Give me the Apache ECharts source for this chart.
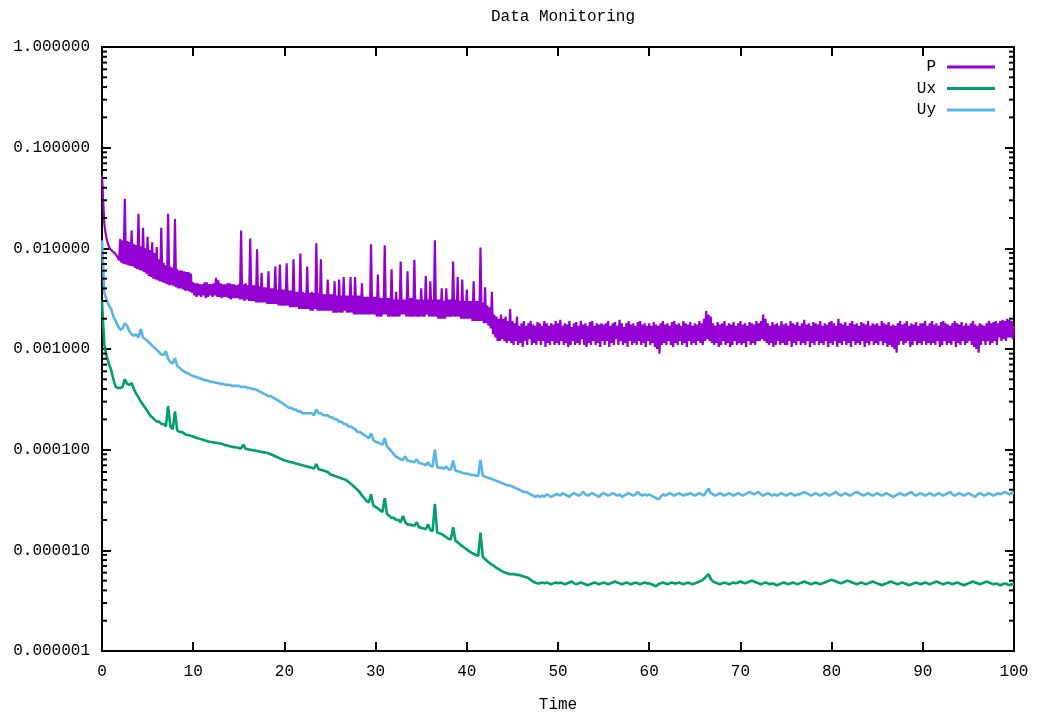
<!DOCTYPE html>
<html>
<head>
<meta charset="utf-8">
<title>Data Monitoring</title>
<script src="https://cdn.jsdelivr.net/npm/echarts@6/dist/echarts.min.js"></script>
<style>
html,body{margin:0;padding:0;background:#fff;}
#chart{width:1041px;height:718px;}
</style>
</head>
<body>
<div id="chart"></div>
<script>
// Residual histories. P is sampled every P_STEP time units, Ux/Uy every U_STEP, all from t = 0.
const P_STEP = 0.125;
const U_STEP = 0.25;

const P = [
  5.3e-2,3.0e-2,1.77e-2,1.45e-2,1.25e-2,1.13e-2,1.05e-2,9.9e-3,9.5e-3,9.4e-3,9.2e-3,9.0e-3,8.8e-3,8.4e-3,8.0e-3,7.6e-3,
  1.24e-2,7.2e-3,1.2e-2,7.0e-3,3.1e-2,6.9e-3,1.18e-2,6.8e-3,1.16e-2,6.7e-3,1.5e-2,6.6e-3,1.1e-2,6.4e-3,1.08e-2,6.2e-3,
  2.2e-2,6.1e-3,1.05e-2,6.0e-3,1.6e-2,5.8e-3,1.0e-2,5.6e-3,
  1.3e-2,5.3e-3,9.6e-3,5.2e-3,1.15e-2,5.0e-3,9.0e-3,4.9e-3,1.03e-2,4.8e-3,7.8e-3,4.7e-3,1.6e-2,4.6e-3,7.2e-3,4.5e-3,
  6.8e-3,4.4e-3,2.2e-2,4.3e-3,6.6e-3,4.3e-3,6.4e-3,4.2e-3,1.95e-2,4.1e-3,6.2e-3,4.0e-3,6.0e-3,4.0e-3,6.0e-3,3.9e-3,
  5.9e-3,3.8e-3,5.8e-3,3.8e-3,5.8e-3,3.7e-3,5.6e-3,3.6e-3,
  4.6e-3,3.4e-3,4.5e-3,3.3e-3,4.5e-3,3.4e-3,4.4e-3,3.3e-3,4.4e-3,3.4e-3,4.6e-3,3.2e-3,4.6e-3,3.3e-3,4.4e-3,3.4e-3,
  4.4e-3,3.3e-3,4.5e-3,3.4e-3,5.1e-3,3.3e-3,4.8e-3,3.3e-3,4.5e-3,3.2e-3,4.4e-3,3.3e-3,4.4e-3,3.3e-3,4.5e-3,3.2e-3,
  4.5e-3,3.1e-3,4.4e-3,3.2e-3,4.4e-3,3.2e-3,4.3e-3,3.2e-3,
  4.4e-3,3.1e-3,1.5e-2,3.1e-3,4.4e-3,3.0e-3,4.5e-3,3.1e-3,4.3e-3,3.0e-3,1.25e-2,3.0e-3,4.3e-3,3.0e-3,4.3e-3,2.9e-3,
  9.8e-3,2.9e-3,4.2e-3,2.9e-3,5.7e-3,2.9e-3,4.1e-3,2.9e-3,4.1e-3,2.8e-3,5.9e-3,2.8e-3,4.0e-3,2.8e-3,4.0e-3,2.8e-3,
  6.6e-3,2.8e-3,3.9e-3,2.7e-3,6.9e-3,2.7e-3,3.9e-3,2.7e-3,
  3.9e-3,2.7e-3,7.1e-3,2.7e-3,3.8e-3,2.6e-3,3.8e-3,2.6e-3,7.8e-3,2.6e-3,3.7e-3,2.6e-3,3.7e-3,2.5e-3,8.9e-3,2.5e-3,
  3.7e-3,2.5e-3,3.6e-3,2.5e-3,6.6e-3,2.5e-3,3.6e-3,2.4e-3,3.7e-3,2.4e-3,3.6e-3,2.5e-3,1.12e-2,2.4e-3,3.6e-3,2.4e-3,
  7.8e-3,2.4e-3,3.5e-3,2.4e-3,3.5e-3,2.4e-3,4.9e-3,2.4e-3,
  3.5e-3,2.4e-3,3.5e-3,2.3e-3,4.7e-3,2.3e-3,3.4e-3,2.3e-3,4.9e-3,2.3e-3,3.4e-3,2.3e-3,5.2e-3,2.4e-3,3.4e-3,2.3e-3,
  3.4e-3,2.3e-3,5.2e-3,2.3e-3,3.4e-3,2.2e-3,5.2e-3,2.2e-3,3.4e-3,2.2e-3,3.4e-3,2.2e-3,4.5e-3,2.2e-3,3.3e-3,2.2e-3,
  3.3e-3,2.2e-3,3.3e-3,2.2e-3,1.1e-2,2.2e-3,3.3e-3,2.2e-3,
  3.3e-3,2.1e-3,5.5e-3,2.1e-3,3.2e-3,2.1e-3,3.2e-3,2.2e-3,1.07e-2,2.2e-3,3.2e-3,2.1e-3,3.2e-3,2.1e-3,6.2e-3,2.1e-3,
  3.1e-3,2.1e-3,3.7e-3,2.1e-3,3.1e-3,2.1e-3,7.4e-3,2.2e-3,3.1e-3,2.2e-3,3.1e-3,2.1e-3,5.9e-3,2.1e-3,3.2e-3,2.1e-3,
  3.2e-3,2.1e-3,7.7e-3,2.1e-3,3.1e-3,2.1e-3,3.1e-3,2.1e-3,
  4.0e-3,2.1e-3,3.1e-3,2.1e-3,5.3e-3,2.2e-3,3.1e-3,2.1e-3,4.7e-3,2.1e-3,3.1e-3,2.1e-3,1.2e-2,2.1e-3,3.1e-3,2.0e-3,
  3.1e-3,2.0e-3,4.0e-3,2.0e-3,3.0e-3,2.0e-3,4.0e-3,2.1e-3,3.1e-3,2.1e-3,3.1e-3,2.1e-3,7.4e-3,2.1e-3,3.1e-3,2.1e-3,
  5.2e-3,2.1e-3,3.0e-3,2.0e-3,4.9e-3,2.0e-3,3.0e-3,2.0e-3,
  3.9e-3,2.0e-3,3.0e-3,2.0e-3,3.0e-3,1.9e-3,4.7e-3,1.9e-3,3.0e-3,1.9e-3,3.0e-3,1.9e-3,1.02e-2,1.9e-3,2.9e-3,1.8e-3,
  4.1e-3,1.8e-3,2.7e-3,1.7e-3,2.6e-3,1.6e-3,3.7e-3,1.4e-3,2.2e-3,1.3e-3,2.1e-3,1.2e-3,2.0e-3,1.2e-3,2.2e-3,1.25e-3,
  2.0e-3,1.2e-3,2.1e-3,1.15e-3,1.9e-3,1.2e-3,2.5e-3,1.15e-3,
  1.9e-3,1.1e-3,1.8e-3,1.2e-3,2.1e-3,1.1e-3,1.7e-3,1.15e-3,1.8e-3,1.05e-3,1.9e-3,1.2e-3,1.7e-3,1.1e-3,1.8e-3,1.25e-3,
  1.9e-3,1.1e-3,1.75e-3,1.15e-3,1.7e-3,1.1e-3,1.85e-3,1.2e-3,1.8e-3,1.1e-3,1.7e-3,1.2e-3,1.9e-3,1.05e-3,1.8e-3,1.15e-3,
  1.7e-3,1.1e-3,1.8e-3,1.2e-3,1.75e-3,1.1e-3,1.9e-3,1.15e-3,
  1.8e-3,1.1e-3,1.95e-3,1.2e-3,1.7e-3,1.1e-3,1.8e-3,1.15e-3,1.75e-3,1.05e-3,1.9e-3,1.1e-3,1.65e-3,1.2e-3,1.8e-3,1.1e-3,
  1.85e-3,1.15e-3,1.7e-3,1.1e-3,1.9e-3,1.25e-3,1.75e-3,1.1e-3,1.8e-3,1.05e-3,1.7e-3,1.15e-3,1.85e-3,1.1e-3,1.9e-3,1.2e-3,
  1.7e-3,1.1e-3,1.8e-3,1.15e-3,1.75e-3,1.05e-3,1.8e-3,1.2e-3,
  1.75e-3,1.1e-3,1.8e-3,1.2e-3,1.9e-3,1.05e-3,1.7e-3,1.15e-3,1.8e-3,1.1e-3,1.85e-3,1.25e-3,1.7e-3,1.1e-3,1.95e-3,1.2e-3,
  1.8e-3,1.1e-3,1.65e-3,1.15e-3,1.8e-3,1.05e-3,1.9e-3,1.2e-3,1.75e-3,1.1e-3,1.8e-3,1.15e-3,1.7e-3,1.1e-3,1.85e-3,1.2e-3,
  1.9e-3,1.1e-3,1.75e-3,1.15e-3,1.8e-3,1.05e-3,1.7e-3,1.2e-3,
  1.8e-3,1.1e-3,1.7e-3,1.15e-3,1.85e-3,1.05e-3,1.75e-3,1.0e-3,1.7e-3,9.0e-4,1.8e-3,1.1e-3,1.9e-3,1.15e-3,1.75e-3,1.1e-3,
  1.8e-3,1.2e-3,1.7e-3,1.1e-3,1.85e-3,1.05e-3,1.9e-3,1.15e-3,1.75e-3,1.1e-3,1.8e-3,1.2e-3,1.7e-3,1.1e-3,1.9e-3,1.15e-3,
  1.8e-3,1.05e-3,1.75e-3,1.2e-3,1.85e-3,1.1e-3,1.7e-3,1.15e-3,
  1.8e-3,1.1e-3,1.75e-3,1.2e-3,1.9e-3,1.15e-3,1.8e-3,1.1e-3,2.0e-3,1.2e-3,2.4e-3,1.25e-3,2.2e-3,1.2e-3,2.1e-3,1.15e-3,
  1.8e-3,1.1e-3,1.7e-3,1.15e-3,1.85e-3,1.05e-3,1.75e-3,1.1e-3,1.8e-3,1.2e-3,1.9e-3,1.1e-3,1.7e-3,1.15e-3,1.8e-3,1.05e-3,
  1.75e-3,1.1e-3,1.85e-3,1.2e-3,1.7e-3,1.1e-3,1.8e-3,1.15e-3,
  1.9e-3,1.1e-3,1.75e-3,1.15e-3,1.8e-3,1.05e-3,1.7e-3,1.2e-3,1.85e-3,1.1e-3,1.8e-3,1.15e-3,1.75e-3,1.1e-3,1.9e-3,1.2e-3,
  1.8e-3,1.2e-3,1.9e-3,1.25e-3,2.2e-3,1.2e-3,2.0e-3,1.15e-3,1.8e-3,1.1e-3,1.7e-3,1.15e-3,1.85e-3,1.05e-3,1.75e-3,1.1e-3,
  1.8e-3,1.2e-3,1.7e-3,1.1e-3,1.9e-3,1.15e-3,1.75e-3,1.1e-3,
  1.8e-3,1.1e-3,1.7e-3,1.2e-3,1.9e-3,1.05e-3,1.8e-3,1.15e-3,1.75e-3,1.1e-3,1.85e-3,1.2e-3,1.7e-3,1.1e-3,1.8e-3,1.15e-3,
  1.95e-3,1.1e-3,1.75e-3,1.2e-3,1.8e-3,1.05e-3,1.7e-3,1.15e-3,1.85e-3,1.1e-3,1.8e-3,1.2e-3,1.75e-3,1.1e-3,1.9e-3,1.15e-3,
  1.7e-3,1.1e-3,1.8e-3,1.2e-3,1.75e-3,1.05e-3,1.85e-3,1.15e-3,
  1.9e-3,1.1e-3,1.8e-3,1.2e-3,1.7e-3,1.05e-3,2.0e-3,1.15e-3,1.8e-3,1.1e-3,1.75e-3,1.2e-3,1.85e-3,1.1e-3,1.7e-3,1.15e-3,
  1.8e-3,1.05e-3,1.9e-3,1.2e-3,1.75e-3,1.1e-3,1.8e-3,1.15e-3,1.7e-3,1.1e-3,1.85e-3,1.2e-3,1.8e-3,1.05e-3,1.75e-3,1.15e-3,
  1.9e-3,1.1e-3,1.7e-3,1.2e-3,1.8e-3,1.1e-3,1.75e-3,1.15e-3,
  1.8e-3,1.1e-3,1.7e-3,1.2e-3,1.9e-3,1.1e-3,1.8e-3,1.15e-3,1.75e-3,1.05e-3,1.85e-3,1.1e-3,1.7e-3,1.05e-3,1.75e-3,1.0e-3,
  1.7e-3,9.2e-4,1.8e-3,1.1e-3,1.9e-3,1.2e-3,1.75e-3,1.1e-3,1.8e-3,1.15e-3,1.9e-3,1.2e-3,1.7e-3,1.05e-3,1.8e-3,1.1e-3,
  1.75e-3,1.2e-3,1.85e-3,1.1e-3,1.7e-3,1.15e-3,1.8e-3,1.1e-3,
  1.8e-3,1.2e-3,1.9e-3,1.1e-3,1.7e-3,1.15e-3,1.8e-3,1.1e-3,1.9e-3,1.15e-3,1.75e-3,1.1e-3,1.8e-3,1.2e-3,1.7e-3,1.05e-3,
  1.85e-3,1.1e-3,1.9e-3,1.2e-3,1.8e-3,1.1e-3,1.75e-3,1.15e-3,1.7e-3,1.1e-3,1.8e-3,1.2e-3,1.9e-3,1.05e-3,1.8e-3,1.15e-3,
  1.75e-3,1.1e-3,1.85e-3,1.2e-3,1.7e-3,1.1e-3,1.8e-3,1.15e-3,
  1.7e-3,1.2e-3,1.8e-3,1.1e-3,1.9e-3,1.05e-3,1.75e-3,1.0e-3,1.7e-3,9.2e-4,1.8e-3,1.1e-3,1.75e-3,1.2e-3,1.7e-3,1.1e-3,
  1.8e-3,1.2e-3,1.9e-3,1.1e-3,1.8e-3,1.15e-3,1.85e-3,1.2e-3,1.9e-3,1.1e-3,1.8e-3,1.3e-3,1.9e-3,1.2e-3,1.95e-3,1.25e-3,
  1.9e-3,1.2e-3,2.0e-3,1.3e-3,1.95e-3,1.3e-3,1.9e-3,1.25e-3,
  1.7e-3
];

const Ux = [
  3.0e-3,1.1e-3,8.5e-4,7.2e-4,6.2e-4,5.0e-4,4.2e-4,4.1e-4,4.1e-4,4.2e-4,5.0e-4,4.5e-4,4.4e-4,4.6e-4,4.0e-4,3.6e-4,3.3e-4,3.0e-4,2.8e-4,2.6e-4,
  2.4e-4,2.2e-4,2.1e-4,2.0e-4,1.9e-4,1.9e-4,1.8e-4,1.8e-4,1.7e-4,2.7e-4,1.7e-4,1.6e-4,2.4e-4,1.55e-4,1.5e-4,1.5e-4,1.45e-4,1.4e-4,1.4e-4,1.37e-4,
  1.35e-4,1.32e-4,1.3e-4,1.28e-4,1.26e-4,1.24e-4,1.22e-4,1.2e-4,1.19e-4,1.18e-4,1.17e-4,1.16e-4,1.15e-4,1.13e-4,1.11e-4,1.1e-4,1.08e-4,1.07e-4,1.06e-4,1.05e-4,
  1.04e-4,1.03e-4,1.12e-4,1.02e-4,1.01e-4,1.0e-4,9.9e-5,9.8e-5,9.7e-5,9.6e-5,9.5e-5,9.4e-5,9.3e-5,9.2e-5,9.0e-5,8.8e-5,8.6e-5,8.4e-5,8.2e-5,8.0e-5,
  7.8e-5,7.7e-5,7.6e-5,7.5e-5,7.4e-5,7.3e-5,7.2e-5,7.1e-5,7.0e-5,6.9e-5,6.8e-5,6.7e-5,6.6e-5,6.5e-5,7.2e-5,6.4e-5,6.3e-5,6.2e-5,6.1e-5,6.0e-5,
  5.7e-5,5.6e-5,5.5e-5,5.4e-5,5.3e-5,5.2e-5,5.1e-5,5.0e-5,4.8e-5,4.6e-5,4.4e-5,4.2e-5,4.0e-5,3.8e-5,3.5e-5,3.3e-5,3.1e-5,3.0e-5,3.6e-5,2.8e-5,
  2.7e-5,2.6e-5,2.5e-5,2.4e-5,3.3e-5,2.3e-5,2.2e-5,2.1e-5,2.1e-5,2.0e-5,2.0e-5,1.9e-5,2.2e-5,1.9e-5,1.8e-5,1.8e-5,1.78e-5,1.75e-5,1.9e-5,1.7e-5,
  1.68e-5,1.65e-5,1.62e-5,1.8e-5,1.6e-5,1.55e-5,2.9e-5,1.5e-5,1.48e-5,1.45e-5,1.4e-5,1.35e-5,1.3e-5,1.28e-5,1.7e-5,1.25e-5,1.2e-5,1.15e-5,1.1e-5,1.06e-5,
  1.02e-5,9.8e-6,9.5e-6,9.2e-6,9.0e-6,8.8e-6,1.5e-5,8.6e-6,8.2e-6,7.8e-6,7.5e-6,7.2e-6,7.0e-6,6.7e-6,6.5e-6,6.3e-6,6.1e-6,6.0e-6,5.9e-6,5.8e-6,
  5.8e-6,5.8e-6,5.7e-6,5.7e-6,5.6e-6,5.5e-6,5.4e-6,5.3e-6,5.1e-6,4.9e-6,4.8e-6,4.7e-6,4.7e-6,4.8e-6,4.7e-6,4.8e-6,4.7e-6,4.6e-6,4.7e-6,4.8e-6,
  4.7e-6,4.8e-6,4.7e-6,4.6e-6,4.7e-6,4.8e-6,4.9e-6,4.7e-6,4.6e-6,4.7e-6,4.8e-6,4.7e-6,4.6e-6,4.5e-6,4.6e-6,4.7e-6,4.8e-6,4.7e-6,4.6e-6,4.7e-6,
  4.8e-6,4.7e-6,4.6e-6,4.7e-6,4.8e-6,4.9e-6,4.8e-6,4.7e-6,4.6e-6,4.7e-6,4.8e-6,4.7e-6,4.6e-6,4.7e-6,4.8e-6,4.7e-6,4.6e-6,4.7e-6,4.8e-6,4.7e-6,
  4.7e-6,4.6e-6,4.5e-6,4.4e-6,4.6e-6,4.7e-6,4.8e-6,4.7e-6,4.6e-6,4.7e-6,4.8e-6,4.7e-6,4.7e-6,4.8e-6,4.7e-6,4.6e-6,4.7e-6,4.8e-6,4.7e-6,4.6e-6,
  4.7e-6,4.8e-6,4.9e-6,5.0e-6,5.2e-6,5.5e-6,5.8e-6,5.2e-6,4.9e-6,4.8e-6,4.7e-6,4.6e-6,4.7e-6,4.8e-6,4.7e-6,4.6e-6,4.7e-6,4.8e-6,4.7e-6,4.8e-6,
  4.9e-6,4.8e-6,4.7e-6,4.8e-6,4.9e-6,5.0e-6,4.9e-6,4.8e-6,4.7e-6,4.6e-6,4.7e-6,4.8e-6,4.7e-6,4.6e-6,4.7e-6,4.6e-6,4.5e-6,4.6e-6,4.7e-6,4.8e-6,
  4.7e-6,4.6e-6,4.7e-6,4.8e-6,4.7e-6,4.6e-6,4.7e-6,4.8e-6,4.9e-6,4.8e-6,4.7e-6,4.6e-6,4.7e-6,4.8e-6,4.7e-6,4.6e-6,4.7e-6,4.8e-6,4.9e-6,5.0e-6,
  5.1e-6,5.0e-6,4.9e-6,4.8e-6,4.7e-6,4.8e-6,4.9e-6,5.0e-6,4.9e-6,4.8e-6,4.7e-6,4.6e-6,4.7e-6,4.8e-6,4.7e-6,4.6e-6,4.7e-6,4.8e-6,4.9e-6,4.8e-6,
  4.7e-6,4.6e-6,4.5e-6,4.6e-6,4.7e-6,4.8e-6,4.9e-6,4.8e-6,4.7e-6,4.6e-6,4.7e-6,4.8e-6,4.7e-6,4.6e-6,4.5e-6,4.6e-6,4.7e-6,4.8e-6,4.7e-6,4.6e-6,
  4.7e-6,4.8e-6,4.7e-6,4.6e-6,4.7e-6,4.8e-6,4.9e-6,4.8e-6,4.7e-6,4.6e-6,4.7e-6,4.8e-6,4.7e-6,4.6e-6,4.7e-6,4.8e-6,4.7e-6,4.6e-6,4.5e-6,4.6e-6,
  4.7e-6,4.8e-6,4.9e-6,4.8e-6,4.7e-6,4.6e-6,4.7e-6,4.8e-6,4.9e-6,4.8e-6,4.7e-6,4.6e-6,4.7e-6,4.6e-6,4.5e-6,4.6e-6,4.7e-6,4.6e-6,4.5e-6,4.6e-6,
  4.6e-6
];

const Uy = [
  1.2e-2,3.6e-3,3.1e-3,2.7e-3,2.5e-3,2.1e-3,1.9e-3,1.7e-3,1.55e-3,1.6e-3,1.8e-3,1.7e-3,1.5e-3,1.4e-3,1.36e-3,1.4e-3,1.3e-3,1.58e-3,1.3e-3,1.25e-3,
  1.2e-3,1.14e-3,1.08e-3,1.03e-3,9.8e-4,9.3e-4,8.8e-4,8.7e-4,9.5e-4,8.0e-4,7.4e-4,7.2e-4,8.1e-4,6.8e-4,6.5e-4,6.2e-4,6.0e-4,5.8e-4,5.7e-4,5.5e-4,
  5.4e-4,5.3e-4,5.2e-4,5.1e-4,5.0e-4,4.9e-4,4.9e-4,4.8e-4,4.7e-4,4.7e-4,4.6e-4,4.6e-4,4.5e-4,4.5e-4,4.4e-4,4.4e-4,4.4e-4,4.3e-4,4.3e-4,4.3e-4,
  4.3e-4,4.2e-4,4.2e-4,4.2e-4,4.1e-4,4.1e-4,4.0e-4,4.0e-4,3.9e-4,3.8e-4,3.7e-4,3.6e-4,3.5e-4,3.4e-4,3.4e-4,3.3e-4,3.2e-4,3.1e-4,3.0e-4,2.9e-4,
  2.8e-4,2.7e-4,2.6e-4,2.6e-4,2.5e-4,2.5e-4,2.4e-4,2.4e-4,2.3e-4,2.3e-4,2.3e-4,2.3e-4,2.3e-4,2.2e-4,2.5e-4,2.3e-4,2.3e-4,2.2e-4,2.2e-4,2.2e-4,
  2.1e-4,2.1e-4,2.0e-4,2.0e-4,1.9e-4,1.9e-4,1.8e-4,1.8e-4,1.7e-4,1.7e-4,1.65e-4,1.6e-4,1.5e-4,1.5e-4,1.45e-4,1.4e-4,1.35e-4,1.3e-4,1.45e-4,1.25e-4,
  1.2e-4,1.18e-4,1.15e-4,1.12e-4,1.3e-4,1.08e-4,1.02e-4,9.6e-5,9.0e-5,8.5e-5,8.3e-5,8.0e-5,7.9e-5,8.6e-5,7.8e-5,7.7e-5,7.6e-5,7.5e-5,8.0e-5,7.4e-5,
  7.3e-5,7.2e-5,7.0e-5,7.5e-5,6.9e-5,6.8e-5,1.0e-4,6.7e-5,6.6e-5,6.6e-5,6.5e-5,6.8e-5,6.4e-5,6.3e-5,7.8e-5,6.2e-5,6.1e-5,6.0e-5,5.9e-5,5.8e-5,
  5.8e-5,5.7e-5,5.6e-5,5.6e-5,5.5e-5,5.5e-5,7.9e-5,5.5e-5,5.4e-5,5.3e-5,5.2e-5,5.1e-5,5.0e-5,4.9e-5,4.8e-5,4.7e-5,4.6e-5,4.5e-5,4.4e-5,4.4e-5,
  4.3e-5,4.2e-5,4.1e-5,4.0e-5,3.9e-5,3.8e-5,3.8e-5,3.7e-5,3.6e-5,3.5e-5,3.4e-5,3.5e-5,3.4e-5,3.5e-5,3.4e-5,3.6e-5,3.5e-5,3.4e-5,3.5e-5,3.6e-5,
  3.6e-5,3.5e-5,3.7e-5,3.6e-5,3.5e-5,3.4e-5,3.6e-5,3.7e-5,3.6e-5,3.5e-5,3.6e-5,3.8e-5,3.6e-5,3.5e-5,3.6e-5,3.7e-5,3.6e-5,3.5e-5,3.4e-5,3.6e-5,
  3.7e-5,3.6e-5,3.5e-5,3.6e-5,3.7e-5,3.6e-5,3.5e-5,3.6e-5,3.4e-5,3.5e-5,3.6e-5,3.7e-5,3.6e-5,3.5e-5,3.6e-5,3.8e-5,3.6e-5,3.5e-5,3.6e-5,3.5e-5,
  3.6e-5,3.5e-5,3.4e-5,3.3e-5,3.2e-5,3.4e-5,3.6e-5,3.5e-5,3.6e-5,3.7e-5,3.6e-5,3.5e-5,3.6e-5,3.7e-5,3.6e-5,3.5e-5,3.6e-5,3.6e-5,3.7e-5,3.6e-5,
  3.5e-5,3.6e-5,3.7e-5,3.6e-5,3.5e-5,3.8e-5,4.1e-5,3.7e-5,3.6e-5,3.5e-5,3.6e-5,3.7e-5,3.6e-5,3.5e-5,3.6e-5,3.7e-5,3.6e-5,3.5e-5,3.6e-5,3.7e-5,
  3.6e-5,3.5e-5,3.6e-5,3.7e-5,3.8e-5,3.7e-5,3.6e-5,3.7e-5,3.8e-5,3.6e-5,3.5e-5,3.6e-5,3.7e-5,3.6e-5,3.5e-5,3.6e-5,3.5e-5,3.6e-5,3.7e-5,3.6e-5,
  3.5e-5,3.6e-5,3.7e-5,3.6e-5,3.5e-5,3.6e-5,3.6e-5,3.7e-5,3.8e-5,3.7e-5,3.6e-5,3.5e-5,3.6e-5,3.7e-5,3.6e-5,3.5e-5,3.6e-5,3.7e-5,3.6e-5,3.5e-5,
  3.6e-5,3.7e-5,3.8e-5,3.6e-5,3.5e-5,3.6e-5,3.7e-5,3.6e-5,3.5e-5,3.6e-5,3.7e-5,3.8e-5,3.7e-5,3.6e-5,3.5e-5,3.6e-5,3.7e-5,3.6e-5,3.5e-5,3.6e-5,
  3.7e-5,3.6e-5,3.5e-5,3.6e-5,3.7e-5,3.6e-5,3.5e-5,3.4e-5,3.5e-5,3.6e-5,3.7e-5,3.6e-5,3.5e-5,3.6e-5,3.7e-5,3.8e-5,3.6e-5,3.5e-5,3.6e-5,3.7e-5,
  3.6e-5,3.5e-5,3.6e-5,3.7e-5,3.6e-5,3.5e-5,3.6e-5,3.7e-5,3.6e-5,3.5e-5,3.6e-5,3.7e-5,3.8e-5,3.6e-5,3.5e-5,3.6e-5,3.7e-5,3.6e-5,3.5e-5,3.6e-5,
  3.7e-5,3.6e-5,3.5e-5,3.4e-5,3.6e-5,3.7e-5,3.6e-5,3.5e-5,3.6e-5,3.7e-5,3.6e-5,3.5e-5,3.6e-5,3.7e-5,3.6e-5,3.7e-5,3.8e-5,3.7e-5,3.6e-5,3.7e-5,
  3.7e-5
];

const SERIES_NAMES = ['P', 'Ux', 'Uy'];
const SERIES_DATA = [P, Ux, Uy];
const SERIES_STEPS = [P_STEP, U_STEP, U_STEP];
const SERIES_COLORS = ['#9400d3', '#009e73', '#56b4e9'];
const SERIES_WIDTHS = [2.2, 2.6, 2.6];

const X_MIN = 0, X_MAX = 100, X_INTERVAL = 10;
const Y_MIN = 1e-6, Y_MAX = 1;

const FONT = '"Liberation Mono", "DejaVu Sans Mono", monospace';

// Plot frame in pixels
const GRID = { left: 102, right: 27, top: 47, bottom: 67 };
const CHART_W = 1041;

// Log-axis minor tick values (2..9 within each decade)
const MINOR_TICKS = [];
for (let e = -6; e < 0; e++) {
  for (let m = 2; m <= 9; m++) MINOR_TICKS.push(m * Math.pow(10, e));
}

const toPairs = (arr, step) => arr.map((v, i) => [i * step, v]);

const chart = echarts.init(document.getElementById('chart'), null, { renderer: 'canvas' });

const lineStyleAxis = { color: '#000', width: 2 };
const tickStyle = { color: '#000', width: 2 };
const textBase = { color: '#000', fontFamily: FONT, fontSize: 16 };

const xAxisCommon = {
  type: 'value', min: X_MIN, max: X_MAX, interval: X_INTERVAL,
  axisLine: { show: true, onZero: false, lineStyle: lineStyleAxis },
  axisTick: { show: true, inside: true, length: 9, lineStyle: tickStyle },
  splitLine: { show: false }
};
const yAxisCommon = {
  type: 'log', logBase: 10, min: Y_MIN, max: Y_MAX,
  axisLine: { show: true, onZero: false, lineStyle: lineStyleAxis },
  axisTick: { show: true, inside: true, length: 9, lineStyle: tickStyle },
  splitLine: { show: false }
};

// title centred over the plot frame rather than the whole canvas
const plotCenterX = GRID.left + (CHART_W - GRID.left - GRID.right) / 2;

const option = {
  animation: false,
  backgroundColor: '#fff',
  title: {
    text: 'Data Monitoring',
    left: plotCenterX, textAlign: 'center', top: 4,
    textStyle: Object.assign({}, textBase, { fontWeight: 'normal' })
  },
  legend: {
    data: SERIES_NAMES,
    orient: 'vertical', align: 'right',
    right: 46, top: 59, padding: 0,
    itemWidth: 48, itemHeight: 3, itemGap: 5.5,
    icon: 'rect',
    textStyle: Object.assign({}, textBase, { padding: [0, 6, 0, 0] })
  },
  grid: Object.assign({ containLabel: false }, GRID),
  xAxis: [
    Object.assign({}, xAxisCommon, {
      position: 'bottom',
      axisLabel: Object.assign({}, textBase, { margin: 13 }),
      name: 'Time', nameLocation: 'middle', nameGap: 46,
      nameTextStyle: textBase
    }),
    Object.assign({}, xAxisCommon, { position: 'top', axisLabel: { show: false } })
  ],
  yAxis: [
    Object.assign({}, yAxisCommon, {
      position: 'left',
      axisLabel: Object.assign({}, textBase, {
        margin: 12,
        formatter: v => Number(v).toFixed(6)
      })
    }),
    Object.assign({}, yAxisCommon, { position: 'right', axisLabel: { show: false } })
  ],
  series: [
    ...SERIES_DATA.map((arr, k) => ({
      name: SERIES_NAMES[k],
      type: 'line',
      xAxisIndex: 0, yAxisIndex: 0,
      data: toPairs(arr, SERIES_STEPS[k]),
      showSymbol: false, symbol: 'none',
      sampling: null,
      lineStyle: { width: SERIES_WIDTHS[k], color: SERIES_COLORS[k], join: 'bevel' },
      itemStyle: { color: SERIES_COLORS[k] },
      z: 2
    })),
    {
      // minor ticks on the left and right edges of the log axis
      type: 'custom', name: 'minorTicks', silent: true, clip: false, z: 4,
      xAxisIndex: 0, yAxisIndex: 0,
      data: MINOR_TICKS.map(v => [X_MIN, v]),
      encode: { x: 0, y: 1 },
      renderItem(params, api) {
        const v = api.value(1);
        const l = api.coord([X_MIN, v]);
        const r = api.coord([X_MAX, v]);
        const s = { stroke: '#000', lineWidth: 2 };
        return {
          type: 'group',
          children: [
            { type: 'line', shape: { x1: l[0], y1: l[1], x2: l[0] + 5, y2: l[1] }, style: s },
            { type: 'line', shape: { x1: r[0] - 5, y1: r[1], x2: r[0], y2: r[1] }, style: s }
          ]
        };
      }
    }
  ]
};

chart.setOption(option);
</script>
</body>
</html>
